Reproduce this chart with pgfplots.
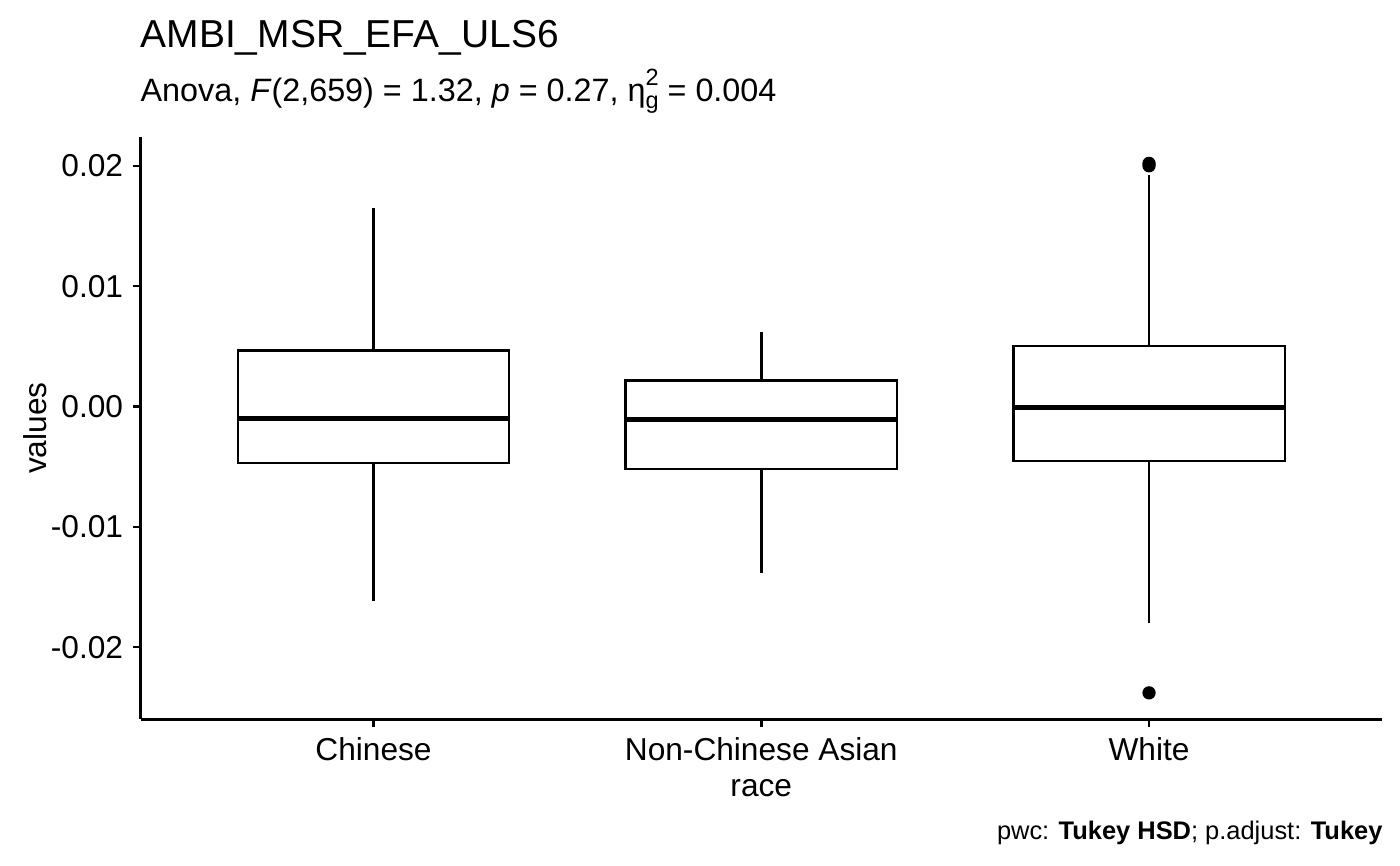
\documentclass[border=0pt]{standalone}
\usepackage{fontspec}
\setmainfont{Liberation Sans}
\usepackage{pgfplots}
\pgfplotsset{compat=1.18}
\begin{document}
\begin{tikzpicture}
\begin{scope}[x=0.005in,y=-0.005in]
\path[use as bounding box] (0,0) rectangle (1400,865);
\node[anchor=base west,inner sep=0pt,font=\fontsize{14.1}{16}\selectfont] at (140,47) {AMBI\_MSR\_EFA\_ULS6};
\node[anchor=base west,inner sep=0pt,font=\fontsize{11.7}{14}\selectfont] at (140,101) {Anova, \textit{F}(2,659) = 1.32, \textit{p} = 0.27, η\rlap{\raisebox{0.9ex}{\fontsize{8.5}{9}\selectfont 2}}\raisebox{-0.45ex}{\fontsize{8.5}{9}\selectfont g} = 0.004};
\node[anchor=base east,inner sep=0pt,font=\fontsize{9.2}{11}\selectfont] at (1383,839) {pwc: \textbf{Tukey HSD}; p.adjust: \textbf{Tukey}};
\end{scope}
\begin{axis}[
  at={(0.705in,-3.6in)}, anchor=south west,
  scale only axis, width=6.21in, height=2.915in,
  xmin=0.4, xmax=3.6, ymin=-0.0260, ymax=0.0224,
  axis lines*=left,
  axis line style={line width=1.1pt},
  tick align=outside, major tick length=0.04in,
  tick style={line width=0.9pt,black},
  scaled y ticks=false,
  xtick={1,2,3},
  xticklabels={Chinese,Non-Chinese Asian,White},
  ytick={-0.02,-0.01,0,0.01,0.02},
  yticklabels={-0.02,-0.01,0.00,0.01,0.02},
  ticklabel style={font=\fontsize{11.45}{13}\selectfont},
  xlabel={race}, ylabel={values},
  label style={font=\fontsize{11.45}{13}\selectfont},
  xlabel style={yshift=0pt},
  ylabel style={yshift=-5.3pt},
  clip=false,
]
% Chinese: whiskers, box, median
\addplot[black, line width=0.9pt] coordinates {(1,0.00463) (1,0.01653)};
\addplot[black, line width=0.9pt] coordinates {(1,-0.00471) (1,-0.0162)};
\addplot[black, line width=0.9pt, line join=miter] coordinates {(0.65,-0.00471) (1.35,-0.00471) (1.35,0.00463) (0.65,0.00463)} \closedcycle;
\addplot[black, line width=1.8pt] coordinates {(0.65,-0.00099) (1.35,-0.00099)};
% Non-Chinese Asian
\addplot[black, line width=0.9pt] coordinates {(2,0.00215) (2,0.0062)};
\addplot[black, line width=0.9pt] coordinates {(2,-0.0052) (2,-0.01388)};
\addplot[black, line width=0.9pt, line join=miter] coordinates {(1.65,-0.0052) (2.35,-0.0052) (2.35,0.00215) (1.65,0.00215)} \closedcycle;
\addplot[black, line width=1.8pt] coordinates {(1.65,-0.00107) (2.35,-0.00107)};
% White
\addplot[black, line width=0.9pt] coordinates {(3,0.00504) (3,0.01926)};
\addplot[black, line width=0.9pt] coordinates {(3,-0.00455) (3,-0.0180)};
\addplot[black, line width=0.9pt, line join=miter] coordinates {(2.65,-0.00455) (3.35,-0.00455) (3.35,0.00504) (2.65,0.00504)} \closedcycle;
\addplot[black, line width=1.8pt] coordinates {(2.65,-0.00008) (3.35,-0.00008)};
% outliers
\addplot[only marks, mark=*, mark size=2.2pt, black] coordinates {(3,0.0202) (3,0.0200) (3,-0.0238)};
\end{axis}
\end{tikzpicture}
\end{document}
